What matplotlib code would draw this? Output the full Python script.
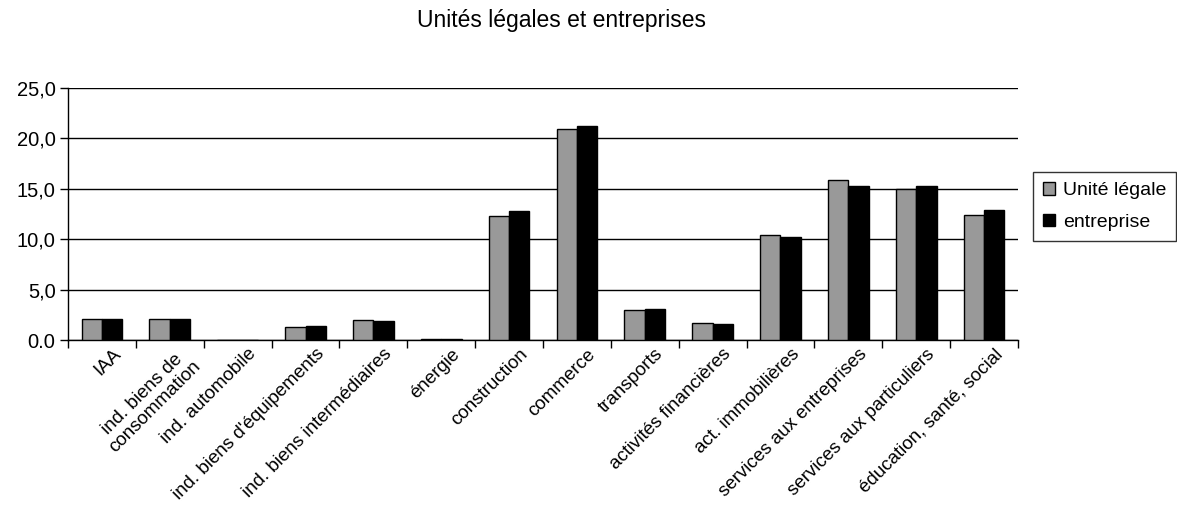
import numpy as np
import matplotlib.pyplot as plt
import matplotlib.transforms as mtransforms

plt.rcParams['font.family'] = ['Liberation Sans', 'DejaVu Sans']

secteurs = [
    "IAA",
    "ind. biens de\nconsommation",
    "ind. automobile",
    "ind. biens d'équipements",
    "ind. biens intermédiaires",
    "énergie",
    "construction",
    "commerce",
    "transports",
    "activités financières",
    "act. immobilières",
    "services aux entreprises",
    "services aux particuliers",
    "éducation, santé, social",
]
unite_legale = [2.1, 2.1, 0.0, 1.3, 2.0, 0.15, 12.3, 20.9, 3.0, 1.7, 10.4, 15.9, 15.0, 12.4]
entreprise = [2.1, 2.1, 0.0, 1.4, 1.9, 0.15, 12.8, 21.2, 3.1, 1.6, 10.2, 15.3, 15.3, 12.9]
y_ticks = [0, 5, 10, 15, 20, 25]
y_labels = ["0.0", "5,0", "10,0", "15,0", "20,0", "25,0"]

fig = plt.figure(figsize=(11.77, 5.09), dpi=100)
ax = fig.add_axes([0.0578, 0.332, 0.8071, 0.495])

x = np.arange(len(secteurs))
w = 0.30
ax.bar(x - w / 2, unite_legale, w, color='#999999', edgecolor='black',
       linewidth=1, label='Unité légale', zorder=3)
ax.bar(x + w / 2, entreprise, w, color='black', edgecolor='black',
       linewidth=1, label='entreprise', zorder=3)

ax.set_xlim(-0.5, len(secteurs) - 0.5)
ax.set_ylim(0, 25)
ax.set_yticks(y_ticks)
ax.set_yticklabels(y_labels, fontsize=14.5)
ax.yaxis.grid(True, color='black', linewidth=1, zorder=0)

# category separators as minor ticks, labels on the centres
ax.set_xticks(x)
ax.set_xticks(np.arange(len(secteurs) + 1) - 0.5, minor=True)
ax.set_xticklabels(secteurs, rotation=45, ha='right', va='top',
                   rotation_mode='anchor', fontsize=13.5, linespacing=1.0,
                   multialignment='center')
ax.tick_params(axis='x', which='major', length=0, pad=4)
ax.tick_params(axis='x', which='minor', length=6, width=1, direction='out')
ax.tick_params(axis='y', length=6, width=1, direction='out', pad=3)

# nudge the slanted labels a little to the right of each category centre
shift = mtransforms.ScaledTranslation(10 / 100, 0, fig.dpi_scale_trans)
for lbl in ax.get_xticklabels():
    lbl.set_transform(lbl.get_transform() + shift)

for s in ['top', 'right']:
    ax.spines[s].set_visible(False)
for s in ['left', 'bottom']:
    ax.spines[s].set_linewidth(1)

fig.text(0.477, 0.96, "Unités légales et entreprises", ha='center',
         va='center', fontsize=16.5)

leg = ax.legend(loc='center left', bbox_to_anchor=(1.016, 0.53), fontsize=14,
                frameon=True, fancybox=False, edgecolor='black',
                handlelength=0.6, handleheight=0.6, handletextpad=0.45,
                borderpad=0.5, labelspacing=0.75, borderaxespad=0)
leg.get_frame().set_linewidth(1)

fig.savefig('out.png', dpi=100)
